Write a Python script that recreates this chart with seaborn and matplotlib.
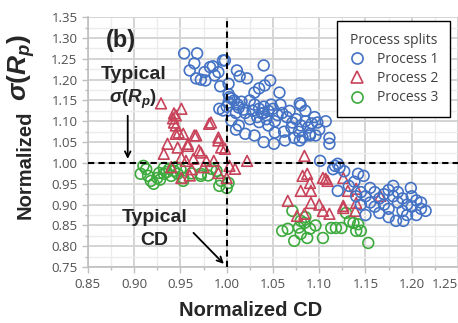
import seaborn as sns
import matplotlib.pyplot as plt
import pandas as pd
from matplotlib.lines import Line2D
from matplotlib.ticker import MultipleLocator

# Values
p1_x = [0.954, 0.968, 0.965, 0.982, 0.976, 0.991, 0.967, 0.972, 0.977, 0.987, 0.996, 0.993, 0.960, 0.985,
        0.998, 1.011, 1.014, 1.022, 1.040, 1.002, 1.035, 1.047, 1.057, 1.030, 1.041, 1.079,
        1.002, 1.005, 1.002, 1.008, 1.012, 1.000, 0.992, 0.996, 1.013, 1.005, 1.018, 1.010, 1.003, 1.016,
        1.025, 1.030, 1.035, 1.040, 1.038, 1.045, 1.050, 1.033, 1.043, 1.048, 1.028, 1.055, 1.040, 1.052,
        1.035, 1.045, 1.025, 1.060, 1.058, 1.020,
        1.065, 1.071, 1.075, 1.080, 1.085, 1.070, 1.078, 1.088, 1.092, 1.080, 1.085, 1.068, 1.095, 1.062,
        1.090, 1.098, 1.107, 1.100, 1.073,
        1.030, 1.040, 1.051, 1.052, 1.063, 1.079, 1.082, 1.090, 1.096, 1.111, 1.111, 1.010, 1.020, 1.013,
        1.101, 1.117, 1.122, 1.120, 1.127, 1.115, 1.142, 1.148, 1.120, 1.138, 1.132,
        1.145, 1.150, 1.155, 1.160, 1.165, 1.170, 1.175, 1.180, 1.185, 1.190, 1.195, 1.200, 1.205, 1.210,
        1.215, 1.199, 1.191, 1.183, 1.160, 1.170, 1.155, 1.175, 1.195, 1.185, 1.150, 1.145, 1.165, 1.205,
        1.200, 1.210, 1.180, 1.140, 1.175, 1.190]
p1_y = [1.263, 1.263, 1.239, 1.230, 1.218, 1.218, 1.203, 1.200, 1.198, 1.210, 1.246, 1.184, 1.222, 1.232,
        1.246, 1.222, 1.208, 1.203, 1.234, 1.190, 1.179, 1.198, 1.169, 1.169, 1.186, 1.143,
        1.165, 1.155, 1.145, 1.150, 1.140, 1.135, 1.130, 1.126, 1.133, 1.102, 1.128, 1.120, 1.158, 1.147,
        1.150, 1.140, 1.130, 1.120, 1.119, 1.125, 1.130, 1.110, 1.105, 1.140, 1.125, 1.115, 1.135, 1.100,
        1.098, 1.090, 1.105, 1.120, 1.140, 1.120,
        1.110, 1.097, 1.105, 1.090, 1.100, 1.085, 1.075, 1.085, 1.095, 1.138, 1.125, 1.125, 1.110, 1.075,
        1.070, 1.097, 1.100, 1.080, 1.060,
        1.066, 1.050, 1.046, 1.073, 1.054, 1.054, 1.061, 1.066, 1.066, 1.060, 1.046, 1.080, 1.070, 1.090,
        1.005, 0.993, 0.989, 0.998, 0.980, 0.985, 0.974, 0.969, 0.933, 0.955, 0.945,
        0.930, 0.920, 0.940, 0.930, 0.915, 0.925, 0.935, 0.920, 0.905, 0.915, 0.900, 0.895, 0.910, 0.890,
        0.885, 0.940, 0.861, 0.861, 0.895, 0.900, 0.905, 0.890, 0.875, 0.930, 0.875, 0.900, 0.880, 0.875,
        0.920, 0.905, 0.945, 0.920, 0.870, 0.885]

p2_x = [0.929, 0.943, 0.951, 0.942, 0.945, 0.983, 0.945, 0.953, 0.965, 0.936, 0.947, 0.958, 0.972, 0.991,
        0.994, 0.932, 0.951, 0.945, 0.943, 0.948, 0.981, 0.958, 0.967, 0.970, 0.991, 0.998, 0.956, 0.964,
        0.978, 0.986, 0.951, 0.991, 0.940, 0.962, 0.975, 1.022, 1.009, 1.000, 1.003, 0.960,
        1.084, 1.082, 1.087, 1.104, 1.109, 1.080, 1.091, 1.090, 1.066, 1.091, 1.076, 1.084, 1.104, 1.111,
        1.126, 1.131, 1.126, 1.107, 1.140, 1.140, 1.126, 1.166, 1.139, 1.100]
p2_y = [1.143, 1.119, 1.130, 1.107, 1.090, 1.097, 1.070, 1.070, 1.066, 1.046, 1.037, 1.041, 1.025, 1.054,
        1.037, 1.022, 1.013, 1.114, 1.097, 1.073, 1.094, 1.046, 1.066, 1.030, 1.061, 1.034, 1.005, 1.010,
        1.005, 1.005, 0.964, 0.976, 0.990, 0.985, 0.990, 1.005, 0.986, 0.964, 0.993, 0.970,
        1.017, 0.969, 0.974, 0.964, 0.957, 0.933, 0.933, 0.952, 0.909, 0.904, 0.873, 0.878, 0.885, 0.878,
        0.964, 0.933, 0.892, 0.962, 0.938, 0.904, 0.897, 0.921, 0.885, 0.900]

p3_x = [0.910, 0.907, 0.915, 0.918, 0.925, 0.921, 0.932, 0.938, 0.943, 0.953, 0.972, 0.983, 0.989, 0.994,
        1.000, 0.927, 0.932, 0.940, 0.947, 0.953, 0.972, 0.992, 1.002, 0.935, 0.945, 0.928, 0.962, 0.950,
        0.980, 0.913,
        1.071, 1.060, 1.066, 1.073, 1.080, 1.084, 1.090, 1.087, 1.096, 1.104, 1.113, 1.118, 1.124, 1.129,
        1.137, 1.142, 1.140, 1.145, 1.153, 1.080, 1.078, 1.085, 1.133]
p3_y = [0.993, 0.974, 0.969, 0.957, 0.964, 0.950, 0.974, 0.986, 0.981, 0.957, 0.969, 0.986, 0.981, 0.957,
        0.940, 0.976, 0.988, 0.969, 0.974, 0.964, 0.974, 0.945, 0.952, 0.978, 0.990, 0.960, 0.975, 0.985,
        0.970, 0.985,
        0.885, 0.837, 0.842, 0.813, 0.861, 0.856, 0.842, 0.820, 0.850, 0.820, 0.844, 0.844, 0.844, 0.880,
        0.856, 0.853, 0.837, 0.837, 0.808, 0.830, 0.845, 0.870, 0.860]

names = ["Process 1", "Process 2", "Process 3"]
colors = ["#4472C4", "#C8435A", "#3DAA3D"]
markers = ["o", "^", "o"]

df = pd.concat([
    pd.DataFrame({"cd": p1_x, "sigma": p1_y, "split": names[0]}),
    pd.DataFrame({"cd": p2_x, "sigma": p2_y, "split": names[1]}),
    pd.DataFrame({"cd": p3_x, "sigma": p3_y, "split": names[2]}),
])

sns.set_style("white")
plt.rcParams["font.family"] = ["Open Sans", "DejaVu Sans"]
plt.rcParams["mathtext.fontset"] = "custom"
plt.rcParams["mathtext.rm"] = "Liberation Sans:bold"
plt.rcParams["mathtext.it"] = "Liberation Sans:italic:bold"

fig = plt.figure(figsize=(4.58, 3.23), dpi=100)
ax = fig.add_axes([0.192, 0.173, 0.808, 0.774])

# draw process 3 and 2 first so blue sits on top like the original
for name, col, mk in zip(names[::-1], colors[::-1], markers[::-1]):
    sub = df[df["split"] == name]
    sns.scatterplot(data=sub, x="cd", y="sigma", ax=ax, marker=mk, s=60,
                    facecolor="none", edgecolor=col, linewidth=1.2, legend=False)

ax.axhline(1.0, color="black", linestyle=(0, (3, 2)), linewidth=1.5, zorder=3)
ax.axvline(1.0, color="black", linestyle=(0, (3, 2)), linewidth=1.5, zorder=3)

ax.set_xlim(0.85, 1.25)
ax.set_ylim(0.75, 1.35)
ax.xaxis.set_major_locator(MultipleLocator(0.05))
ax.yaxis.set_major_locator(MultipleLocator(0.05))
ax.xaxis.set_minor_locator(MultipleLocator(0.025))
ax.yaxis.set_minor_locator(MultipleLocator(0.025))
# the last x label sits against the right edge, so it is drawn separately below
ax.xaxis.set_major_formatter(lambda v, p: "" if v > 1.24 else f"{v:.2f}")
ax.yaxis.set_major_formatter(lambda v, p: f"{v:.2f}")
ax.grid(which="major", color="#D4D4D4", linewidth=1.4)
ax.grid(which="minor", color="#ECECEC", linewidth=1.0)
ax.set_axisbelow(True)
ax.tick_params(which="major", direction="out", length=4.5, width=1, color="#BFBFBF",
               labelsize=9.5, labelcolor="#505050", pad=3)
ax.tick_params(which="minor", direction="out", length=2.5, width=1, color="#BFBFBF")
ax.tick_params(axis="x", bottom=True, which="both")
ax.tick_params(axis="y", left=True, which="both")
for side in ["top", "right"]:
    ax.spines[side].set_visible(False)
for side in ["left", "bottom"]:
    ax.spines[side].set_color("#BFBFBF")
    ax.spines[side].set_linewidth(1.2)
ax.annotate("1.25", xy=(1.25, 0), xycoords=("data", "axes fraction"), xytext=(0, -7.5),
            textcoords="offset points", ha="right", va="top", fontsize=9.5, color="#505050")

ax.set_xlabel("Normalized CD", family="Liberation Sans", fontweight="bold", fontsize=14.5,
              color="#262626")
ax.xaxis.set_label_coords(0.44, -0.135)
# y label: the sigma part is set larger, as in the original
ax.set_ylabel("Normalized", family="Liberation Sans", fontweight="bold",
              fontsize=14.5, color="#262626")
ax.yaxis.set_label_coords(-0.145, 0.41)
ax.text(-0.165, 0.80, r"$\sigma(R_p)$", transform=ax.transAxes, rotation=90,
        rotation_mode="anchor", ha="center", va="baseline", fontsize=19, color="#262626")

# annotations
ax.text(0.886, 1.295, "(b)", family="Liberation Sans", fontweight="bold", fontsize=17,
        ha="center", va="center", color="#262626")
ax.text(0.899, 1.212, "Typical", family="Liberation Sans", fontweight="bold", fontsize=14,
        ha="center", va="center", color="#262626")
ax.text(0.899, 1.153, r"$\sigma(R_p)$", fontsize=13.5, ha="center", va="center", color="#262626")
ax.annotate("", xy=(0.893, 1.003), xytext=(0.893, 1.12),
            arrowprops=dict(arrowstyle="->", color="black", lw=1.3))
ax.text(0.922, 0.868, "Typical", family="Liberation Sans", fontweight="bold", fontsize=14,
        ha="center", va="center", color="#262626")
ax.text(0.922, 0.813, "CD", family="Liberation Sans", fontweight="bold", fontsize=14,
        ha="center", va="center", color="#262626")
ax.annotate("", xy=(0.999, 0.753), xytext=(0.962, 0.837),
            arrowprops=dict(arrowstyle="->", color="black", lw=1.3))

handles = [Line2D([], [], linestyle="none", marker=mk, markersize=8, markerfacecolor="none",
                  markeredgecolor=col, markeredgewidth=1.2)
           for col, mk in zip(colors, markers)]
leg = ax.legend(handles, names, title="Process splits", loc="upper right",
                bbox_to_anchor=(0.978, 0.984), borderaxespad=0, fontsize=10,
                title_fontsize=10, frameon=True, fancybox=False, edgecolor="black",
                framealpha=1, handletextpad=0.8, labelspacing=0.3, borderpad=0.85,
                handlelength=1.2)
leg.get_frame().set_linewidth(1.0)
for t in leg.get_texts():
    t.set_color("#404040")
leg.get_title().set_color("#404040")

fig.savefig("out.png", dpi=100)
